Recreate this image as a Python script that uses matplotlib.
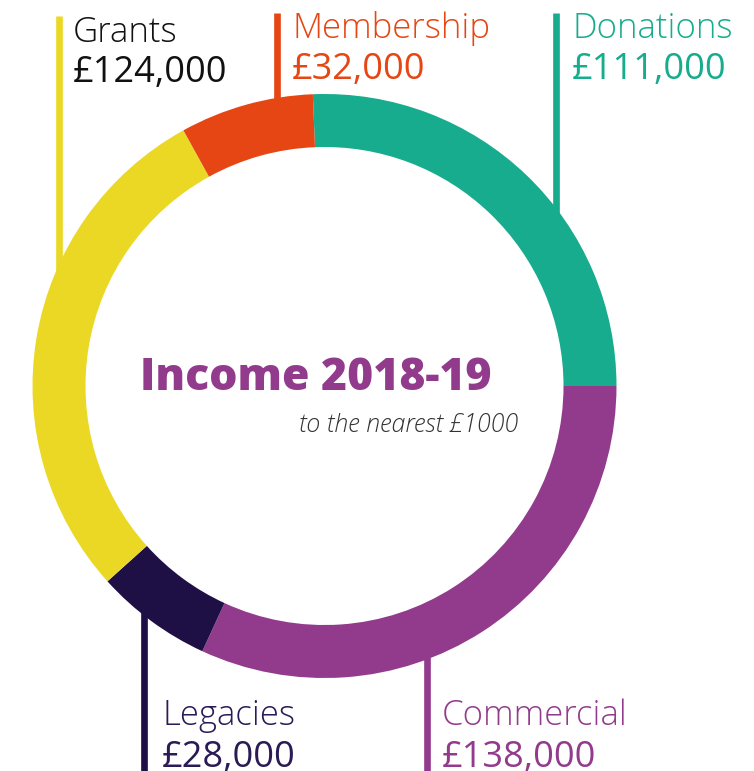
import numpy as np
import matplotlib
matplotlib.use("Agg")
import matplotlib.pyplot as plt

# Income 2018-19, clockwise from the right-hand side of the ring
categories = ["Donations", "Commercial", "Legacies", "Grants", "Membership"]
values = [111000, 138000, 28000, 124000, 32000]
value_labels = ["£111,000", "£138,000", "£28,000", "£124,000", "£32,000"]
colors = ["#17AC8E", "#923B8C", "#1E0F45", "#EBD824", "#E54613"]
text_colors = ["#17AC8E", "#923B8C", "#2A1B57", "#111111", "#E54613"]

W, H = 754, 771
cx, cy, r, ring = 324.5, 385, 292, 53


def Y(py):
    # picture rows run downwards, axes run upwards
    return H - py


plt.rcParams['font.family'] = ['Open Sans', 'DejaVu Sans']

fig = plt.figure(figsize=(W / 100, H / 100), dpi=100)
ax = fig.add_axes([0, 0, 1, 1])

total = sum(values)
ax.pie(values, colors=colors, startangle=360 * values[0] / total,
       counterclock=False, radius=r, center=(cx, cy),
       wedgeprops=dict(width=ring, linewidth=0), frame=True)

# leader lines: x of line, top row of line (picture px), label side
leaders = {
    "Grants": (58.5, 16, "top"),
    "Membership": (277, 13, "top"),
    "Donations": (556, 13, "top"),
    "Legacies": (144, 771, "bottom"),
    "Commercial": (427, 771, "bottom"),
}
# label positions: left x, baseline of name, baseline of value (picture px)
label_pos = {
    "Grants": (73, 42, 82),
    "Membership": (292, 38, 79),
    "Donations": (572, 38, 79),
    "Legacies": (162, 725, 767),
    "Commercial": (442, 725, 767),
}

for name, val, col, tcol in zip(categories, value_labels, colors, text_colors):
    lx, lend, side = leaders[name]
    dy = np.sqrt(r ** 2 - (lx - cx) ** 2) - 20
    if side == "top":
        ax.plot([lx, lx], [Y(lend), cy + dy], color=col, lw=4.8,
                solid_capstyle="butt", zorder=0)
    else:
        ax.plot([lx, lx], [Y(lend) - 5, cy - dy], color=col, lw=4.8,
                solid_capstyle="butt", zorder=0)
    tx, nb, vb = label_pos[name]
    ax.text(tx, Y(nb), name, color=tcol, fontsize=25, fontweight=300,
            va="baseline", ha="left")
    ax.text(tx, Y(vb), val, color=tcol, fontsize=26, fontweight=500,
            va="baseline", ha="left")

ax.text(316, Y(390), "Income 2018-19", color="#923B8C", fontsize=32,
        fontweight=800, va="baseline", ha="center")
ax.text(518, Y(432), "to the nearest £1000", color="#333333", fontsize=18,
        fontstyle="italic", fontweight=300, va="baseline", ha="right")

ax.set_xlim(0, W)
ax.set_ylim(0, H)
ax.set_aspect("equal")
ax.axis("off")

fig.savefig("out.png", dpi=100)
